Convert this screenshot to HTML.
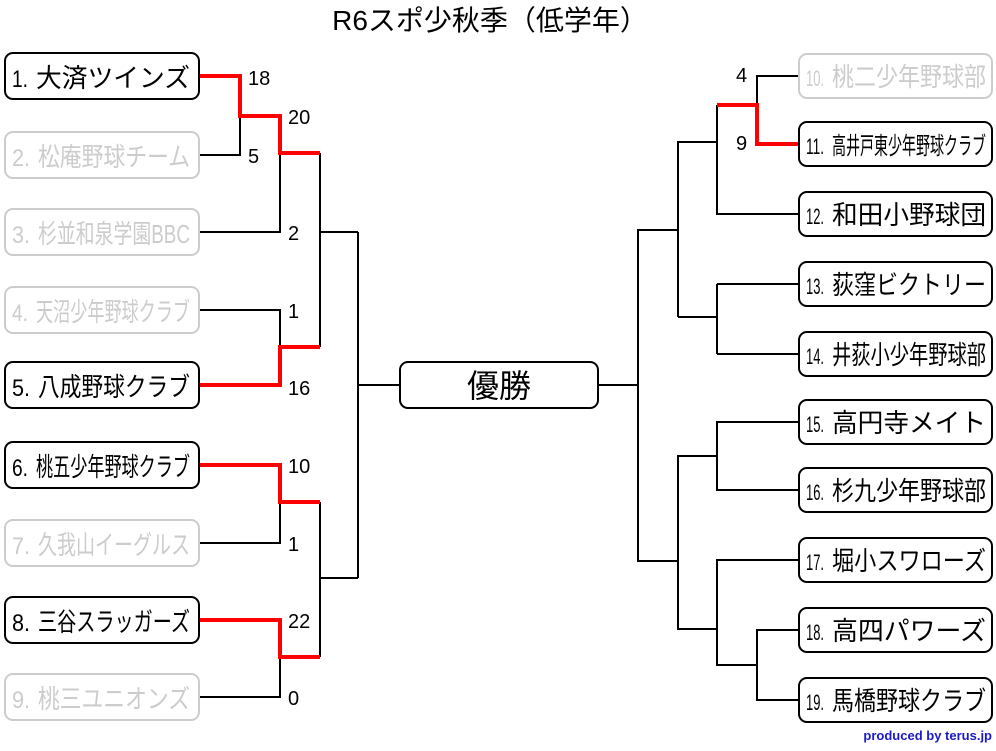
<!DOCTYPE html>
<html><head><meta charset="utf-8"><style>
html,body{margin:0;padding:0;background:#fff;}
svg text{font-family:"Liberation Sans","Noto Sans CJK JP",sans-serif;}
</style></head><body>
<svg width="996" height="746" viewBox="0 0 996 746" xmlns="http://www.w3.org/2000/svg">
<text x="490" y="30" font-size="28" text-anchor="middle" fill="#000">R6スポ少秋季（低学年）</text>

<g fill="none" stroke="#000" stroke-width="2">
<path d="M200 155H240V116"/>
<path d="M200 232H280V153"/>
<path d="M200 310H280V347"/>
<path d="M200 543H280V502"/>
<path d="M200 697H280V657"/>
<path d="M320 153V347M320 232H358"/>
<path d="M320 502V657M320 578H358"/>
<path d="M358 232V578M358 385H400"/>
<path d="M799 76H757V105"/>
<path d="M799 214H717V105"/>
<path d="M717 142H678V317M717 284V354M799 284H717M799 354H717M717 317H678M678 230H638V561H678"/>
<path d="M638 385H598"/>
<path d="M799 422H717V490H799M717 456H678V629H717"/>
<path d="M799 560H717V665H757M799 630H757V700H799"/>
</g>
<g fill="none" stroke="#f00" stroke-width="4">
<path d="M200 76H240V116H280V153H320"/>
<path d="M200 385H280V347H320"/>
<path d="M200 465H280V502H320"/>
<path d="M200 620H280V657H320"/>
<path d="M717 105H757V144H799"/>
</g>

<g font-size="20" fill="#000">
<text x="248" y="85">18</text><text x="288" y="124">20</text><text x="248" y="163">5</text>
<text x="288" y="240">2</text><text x="288" y="318">1</text><text x="288" y="395">16</text>
<text x="288" y="473">10</text><text x="288" y="551">1</text><text x="288" y="628">22</text>
<text x="288" y="705">0</text>
<text x="736" y="82">4</text><text x="736" y="150">9</text>
</g>

<g stroke-width="2">
<rect x="5" y="53" width="194" height="46" rx="8" fill="#fff" stroke="#000"/>
<rect x="5" y="132" width="194" height="46" rx="8" fill="#fff" stroke="#ccc"/>
<rect x="5" y="209" width="194" height="46" rx="8" fill="#fff" stroke="#ccc"/>
<rect x="5" y="287" width="194" height="46" rx="8" fill="#fff" stroke="#ccc"/>
<rect x="5" y="362" width="194" height="46" rx="8" fill="#fff" stroke="#000"/>
<rect x="5" y="442" width="194" height="46" rx="8" fill="#fff" stroke="#000"/>
<rect x="5" y="520" width="194" height="46" rx="8" fill="#fff" stroke="#ccc"/>
<rect x="5" y="597" width="194" height="46" rx="8" fill="#fff" stroke="#000"/>
<rect x="5" y="674" width="194" height="46" rx="8" fill="#fff" stroke="#ccc"/>
<rect x="400" y="362" width="198" height="46" rx="8" fill="#fff" stroke="#000"/>
<rect x="799" y="54" width="193" height="44" rx="8" fill="#fff" stroke="#ccc"/>
<rect x="799" y="122" width="193" height="44" rx="8" fill="#fff" stroke="#000"/>
<rect x="799" y="192" width="193" height="44" rx="8" fill="#fff" stroke="#000"/>
<rect x="799" y="262" width="193" height="44" rx="8" fill="#fff" stroke="#000"/>
<rect x="799" y="332" width="193" height="44" rx="8" fill="#fff" stroke="#000"/>
<rect x="799" y="400" width="193" height="44" rx="8" fill="#fff" stroke="#000"/>
<rect x="799" y="468" width="193" height="44" rx="8" fill="#fff" stroke="#000"/>
<rect x="799" y="538" width="193" height="44" rx="8" fill="#fff" stroke="#000"/>
<rect x="799" y="608" width="193" height="44" rx="8" fill="#fff" stroke="#000"/>
<rect x="799" y="678" width="193" height="44" rx="8" fill="#fff" stroke="#000"/>
</g>

<g font-size="26">
<text x="12" y="87" fill="#000" font-size="24" textLength="16" lengthAdjust="spacingAndGlyphs">1.</text>
<text x="36" y="87" fill="#000" textLength="154" lengthAdjust="spacingAndGlyphs">大済ツインズ</text>
<text x="12" y="166" fill="#ccc" font-size="24" textLength="18" lengthAdjust="spacingAndGlyphs">2.</text>
<text x="38" y="166" fill="#ccc" textLength="152" lengthAdjust="spacingAndGlyphs">松庵野球チーム</text>
<text x="12" y="243" fill="#ccc" font-size="24" textLength="18" lengthAdjust="spacingAndGlyphs">3.</text>
<text x="38" y="243" fill="#ccc" textLength="152" lengthAdjust="spacingAndGlyphs">杉並和泉学園BBC</text>
<text x="12" y="321" fill="#ccc" font-size="24" textLength="16" lengthAdjust="spacingAndGlyphs">4.</text>
<text x="36" y="321" fill="#ccc" textLength="154" lengthAdjust="spacingAndGlyphs">天沼少年野球クラブ</text>
<text x="12" y="396" fill="#000" font-size="24" textLength="18" lengthAdjust="spacingAndGlyphs">5.</text>
<text x="38" y="396" fill="#000" textLength="152" lengthAdjust="spacingAndGlyphs">八成野球クラブ</text>
<text x="12" y="476" fill="#000" font-size="24" textLength="16" lengthAdjust="spacingAndGlyphs">6.</text>
<text x="36" y="476" fill="#000" textLength="154" lengthAdjust="spacingAndGlyphs">桃五少年野球クラブ</text>
<text x="12" y="554" fill="#ccc" font-size="24" textLength="18" lengthAdjust="spacingAndGlyphs">7.</text>
<text x="38" y="554" fill="#ccc" textLength="152" lengthAdjust="spacingAndGlyphs">久我山イーグルス</text>
<text x="12" y="631" fill="#000" font-size="24" textLength="18" lengthAdjust="spacingAndGlyphs">8.</text>
<text x="38" y="631" fill="#000" textLength="152" lengthAdjust="spacingAndGlyphs">三谷スラッガーズ</text>
<text x="12" y="708" fill="#ccc" font-size="24" textLength="18" lengthAdjust="spacingAndGlyphs">9.</text>
<text x="38" y="708" fill="#ccc" textLength="152" lengthAdjust="spacingAndGlyphs">桃三ユニオンズ</text>

<text x="499" y="397" fill="#000" font-size="32" text-anchor="middle">優勝</text>

<text x="806" y="86" fill="#ccc" font-size="22" textLength="18" lengthAdjust="spacingAndGlyphs">10.</text>
<text x="832" y="86" fill="#ccc" textLength="154" lengthAdjust="spacingAndGlyphs">桃二少年野球部</text>
<text x="806" y="154" fill="#000" font-size="22" textLength="18" lengthAdjust="spacingAndGlyphs">11.</text>
<text x="832" y="154" fill="#000" font-size="24" textLength="154" lengthAdjust="spacingAndGlyphs">高井戸東少年野球クラブ</text>
<text x="806" y="224" fill="#000" font-size="22" textLength="18" lengthAdjust="spacingAndGlyphs">12.</text>
<text x="832" y="224" fill="#000" textLength="154" lengthAdjust="spacingAndGlyphs">和田小野球団</text>
<text x="806" y="294" fill="#000" font-size="22" textLength="18" lengthAdjust="spacingAndGlyphs">13.</text>
<text x="832" y="294" fill="#000" textLength="154" lengthAdjust="spacingAndGlyphs">荻窪ビクトリー</text>
<text x="806" y="364" fill="#000" font-size="22" textLength="18" lengthAdjust="spacingAndGlyphs">14.</text>
<text x="832" y="364" fill="#000" textLength="154" lengthAdjust="spacingAndGlyphs">井荻小少年野球部</text>
<text x="806" y="432" fill="#000" font-size="22" textLength="18" lengthAdjust="spacingAndGlyphs">15.</text>
<text x="832" y="432" fill="#000" textLength="154" lengthAdjust="spacingAndGlyphs">高円寺メイト</text>
<text x="806" y="500" fill="#000" font-size="22" textLength="18" lengthAdjust="spacingAndGlyphs">16.</text>
<text x="832" y="500" fill="#000" textLength="154" lengthAdjust="spacingAndGlyphs">杉九少年野球部</text>
<text x="806" y="570" fill="#000" font-size="22" textLength="18" lengthAdjust="spacingAndGlyphs">17.</text>
<text x="832" y="570" fill="#000" textLength="154" lengthAdjust="spacingAndGlyphs">堀小スワローズ</text>
<text x="806" y="640" fill="#000" font-size="22" textLength="18" lengthAdjust="spacingAndGlyphs">18.</text>
<text x="832" y="640" fill="#000" textLength="154" lengthAdjust="spacingAndGlyphs">高四パワーズ</text>
<text x="806" y="710" fill="#000" font-size="22" textLength="18" lengthAdjust="spacingAndGlyphs">19.</text>
<text x="832" y="710" fill="#000" textLength="154" lengthAdjust="spacingAndGlyphs">馬橋野球クラブ</text>
</g>
<text x="992" y="740" font-size="13" font-weight="bold" fill="#1a1acc" text-anchor="end">produced by terus.jp</text>
</svg>
</body></html>
